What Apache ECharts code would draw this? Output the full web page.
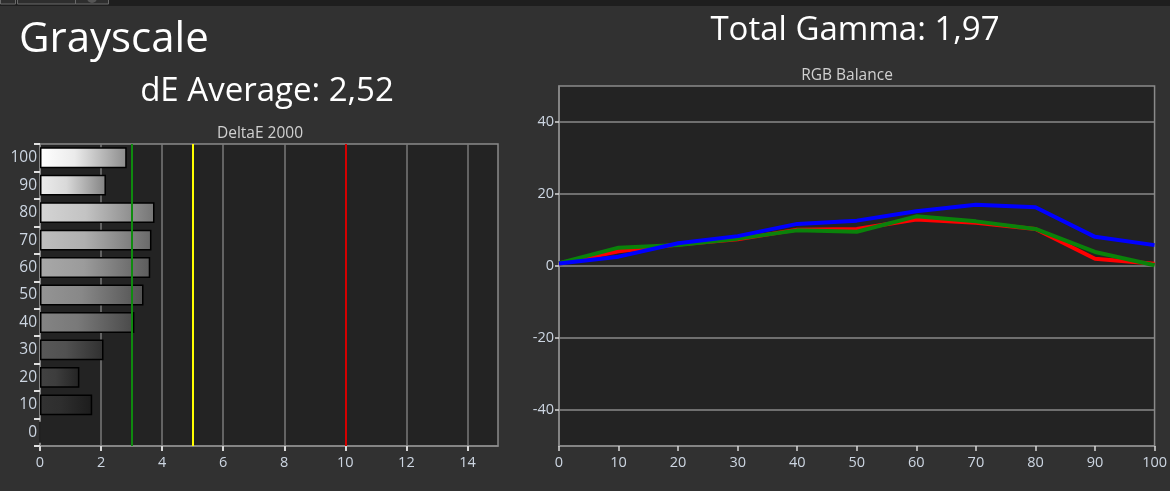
<!DOCTYPE html>
<html>
<head>
<meta charset="utf-8">
<script src="https://cdn.jsdelivr.net/npm/echarts@6/dist/echarts.min.js"></script>
<style>
html,body{margin:0;padding:0;background:#313131;}
#c{width:1170px;height:491px;}
</style>
</head>
<body>
<div id="c"></div>
<script>
// ---- data ----
const grayLevels = ['0','10','20','30','40','50','60','70','80','90','100'];
const deltaE = [0, 1.71, 1.29, 2.08, 3.09, 3.39, 3.61, 3.65, 3.75, 2.16, 2.84];
const deTicks = [0, 2, 4, 6, 8, 10, 12, 14];
const deRefLines = [3, 5, 10];
const rgbX = [0, 10, 20, 30, 40, 50, 60, 70, 80, 90, 100];
const redVals   = [0.7, 4.1, 6.0, 7.4, 10.1, 10.3, 12.9, 12.0, 10.3, 2.0, 0.6];
const greenVals = [0.8, 5.1, 5.8, 7.6,  9.9,  9.5, 13.8, 12.4, 10.3, 3.9, 0.2];
const blueVals  = [0.7, 2.6, 6.3, 8.3, 11.7, 12.6, 15.2, 17.0, 16.3, 8.1, 5.8];
const rgbYTicks = [-40, -20, 0, 20, 40];
const titleMain = 'Grayscale';
const titleDE = 'dE Average: 2,52';
const titleGamma = 'Total Gamma: 1,97';

// ---- styles ----
const bgPage = '#313131';
const bgPlot = '#232323';
const frameCol = '#8a8a8a';
const labelCol = '#cdd6e2';
const fontFam = '"Open Sans", "Noto Sans", sans-serif';
const leftShades = [34, 50, 66, 88, 132, 148, 168, 190, 212, 236, 255];
const refCols = ['#0f8a0f', '#ffff00', '#d40000'];

function shadeHex(v) {
  v = Math.max(0, Math.min(255, Math.round(v)));
  const h = v.toString(16).padStart(2, '0');
  return '#' + h + h + h;
}

const barData = deltaE.map((v, i) => ({
  value: v,
  itemStyle: {
    color: {
      type: 'linear', x: 0, y: 0, x2: 1, y2: 0,
      colorStops: [
        { offset: 0, color: shadeHex(leftShades[i]) },
        { offset: 0.4, color: shadeHex(leftShades[i] * 0.92) },
        { offset: 1, color: shadeHex(leftShades[i] * 0.55) }
      ]
    }
  }
}));

const chart = echarts.init(document.getElementById('c'), null, { renderer: 'canvas' });

const option = {
  backgroundColor: bgPage,
  animation: false,
  textStyle: { fontFamily: fontFam },
  title: [
    { text: titleMain, left: 14, top: 14, textStyle: { color: '#ffffff', fontSize: 42, fontWeight: 'normal', fontFamily: fontFam } },
    { text: titleDE, left: 262, top: 70, textAlign: 'center', textStyle: { color: '#ffffff', fontSize: 33, fontWeight: 'normal', fontFamily: fontFam } },
    { text: titleGamma, left: 850, top: 9, textAlign: 'center', textStyle: { color: '#ffffff', fontSize: 33, fontWeight: 'normal', fontFamily: fontFam } },
    { text: 'DeltaE 2000', left: 255, top: 121, textAlign: 'center', textStyle: { color: '#d0d0d0', fontSize: 15.5, fontWeight: 'normal', fontFamily: fontFam } },
    { text: 'RGB Balance', left: 842, top: 63, textAlign: 'center', textStyle: { color: '#d0d0d0', fontSize: 15.5, fontWeight: 'normal', fontFamily: fontFam } }
  ],
  graphic: [
    { type: 'rect', shape: { x: 0, y: 0, width: 1170, height: 6 }, style: { fill: '#1e1e1e' }, silent: true },
    { type: 'rect', shape: { x: 0.5, y: -1, width: 15, height: 5 }, style: { fill: '#2e2e2e', stroke: '#6a6a6a', lineWidth: 1 }, silent: true },
    { type: 'rect', shape: { x: 17.5, y: -1, width: 58, height: 5 }, style: { fill: '#2e2e2e', stroke: '#6a6a6a', lineWidth: 1 }, silent: true },
    { type: 'rect', shape: { x: 75.5, y: -1, width: 33, height: 5 }, style: { fill: '#2e2e2e', stroke: '#6a6a6a', lineWidth: 1 }, silent: true },
    { type: 'circle', shape: { cx: 92, cy: -2, r: 5 }, style: { fill: '#555555' }, silent: true }
  ],
  grid: [
    { left: 40, top: 144, width: 458, height: 302, show: true, backgroundColor: bgPlot, borderColor: frameCol, borderWidth: 1.5, containLabel: false },
    { left: 559, top: 86, width: 597, height: 360, show: true, backgroundColor: bgPlot, borderColor: frameCol, borderWidth: 1.5, containLabel: false }
  ],
  xAxis: [
    {
      gridIndex: 0, type: 'value', min: 0, max: 15, interval: 2,
      axisLine: { show: true, onZero: false, lineStyle: { color: frameCol, width: 1.5 } },
      axisTick: { show: true, length: 5, customValues: deTicks, lineStyle: { color: '#d8d8d8', width: 2 } },
      axisLabel: { customValues: deTicks, color: labelCol, fontSize: 14.5, margin: 9, fontFamily: fontFam },
      splitLine: { show: true, lineStyle: { color: '#7a7a7a', width: 1.5 } }
    },
    {
      gridIndex: 1, type: 'value', min: 0, max: 100, interval: 10,
      axisLine: { show: true, onZero: false, lineStyle: { color: frameCol, width: 1.5 } },
      axisTick: { show: true, length: 5, lineStyle: { color: '#d8d8d8', width: 1.5 } },
      axisLabel: { color: labelCol, fontSize: 14.5, margin: 9, fontFamily: fontFam },
      splitLine: { show: false }
    }
  ],
  yAxis: [
    {
      gridIndex: 0, type: 'category', data: grayLevels,
      axisLine: { show: true, onZero: false, lineStyle: { color: frameCol, width: 1.5 } },
      axisTick: { show: true, length: 6, lineStyle: { color: '#e0e0e0', width: 2 } },
      axisLabel: { color: labelCol, fontSize: 15.5, margin: 3, fontFamily: fontFam },
      splitLine: { show: false }
    },
    {
      gridIndex: 1, type: 'value', min: -50, max: 50, interval: 10,
      axisLine: { show: true, onZero: false, lineStyle: { color: frameCol, width: 1.5 } },
      axisTick: { show: true, length: 4, customValues: rgbYTicks, lineStyle: { color: '#d8d8d8', width: 1.5 } },
      axisLabel: { customValues: rgbYTicks, color: labelCol, fontSize: 14.5, margin: 5, fontFamily: fontFam },
      splitLine: { show: true, lineStyle: { color: '#8a8a8a', width: 1.5 } }
    }
  ],
  series: [
    {
      type: 'bar', xAxisIndex: 0, yAxisIndex: 0, data: barData, barWidth: '76%',
      itemStyle: { borderColor: '#000000', borderWidth: 1.5 },
      markLine: {
        silent: true, symbol: 'none', label: { show: false },
        data: deRefLines.map((v, i) => ({ xAxis: v, lineStyle: { color: refCols[i], width: 2, type: 'solid' } }))
      },
      z: 3
    },
    { type: 'line', xAxisIndex: 1, yAxisIndex: 1, data: rgbX.map((x, i) => [x, redVals[i]]), symbol: 'none', lineStyle: { color: '#ff0000', width: 4 }, z: 3 },
    { type: 'line', xAxisIndex: 1, yAxisIndex: 1, data: rgbX.map((x, i) => [x, greenVals[i]]), symbol: 'none', lineStyle: { color: '#0a820a', width: 4 }, z: 4 },
    { type: 'line', xAxisIndex: 1, yAxisIndex: 1, data: rgbX.map((x, i) => [x, blueVals[i]]), symbol: 'none', lineStyle: { color: '#0000ff', width: 4 }, z: 5 }
  ]
};
chart.setOption(option);
</script>
</body>
</html>
